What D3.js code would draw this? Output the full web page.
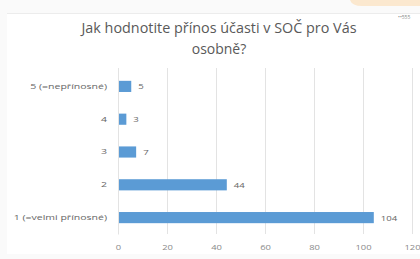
<!DOCTYPE html>
<html><head><meta charset="utf-8">
<script src="https://cdn.jsdelivr.net/npm/d3@7"></script>
<style>body{margin:0;background:#fff;} text{font-family:"Open Sans","Liberation Sans",sans-serif;}</style>
</head><body><svg id="c" width="420" height="259"></svg>
<script>
const categories = ["5 (=nepřínosné)", "4", "3", "2", "1 (=velmi přínosné)"];
const values = [5, 3, 7, 44, 104];
const ticks = [0, 20, 40, 60, 80, 100, 120];
const titleLines = ["Jak hodnotite přínos účasti v SOČ pro Vás", "osobně?"];

const svg = d3.select("#c");
svg.append("rect").attr("x",0).attr("y",0).attr("width",420).attr("height",259).attr("fill","#fafafa");
svg.append("rect").attr("x",7).attr("y",14).attr("width",413).attr("height",240).attr("fill","#ffffff");
svg.append("line").attr("x1",7).attr("x2",420).attr("y1",13.5).attr("y2",13.5).attr("stroke","#ececec");
svg.append("path").attr("d","M350,0 H420 V6 H362 Q352,6 350,0 Z").attr("fill","#fbe8cf");
svg.append("text").attr("x",398).attr("y",19).attr("font-size",5).attr("fill","#8a8a8a").text("••555");

const x = d3.scaleLinear().domain([0,120]).range([118,412]);
const y = d3.scaleBand().domain(categories).range([70,234]).paddingInner(0.66).paddingOuter(0.33);

const stretch = (sel, f) => sel.each(function(){
  const w = this.getComputedTextLength();
  d3.select(this).attr("textLength", w*f).attr("lengthAdjust","spacingAndGlyphs");
});

svg.append("g").selectAll("line").data(ticks).join("line")
  .attr("x1",d=>x(d)+0.5).attr("x2",d=>x(d)+0.5).attr("y1",68).attr("y2",234)
  .attr("stroke","#e3e3e3").attr("stroke-width",1);

svg.append("g").selectAll("rect").data(values).join("rect")
  .attr("x",x(0)+1).attr("y",(d,i)=>y(categories[i]))
  .attr("width",d=>x(d)-x(0)).attr("height",y.bandwidth())
  .attr("fill","#5b9bd5");

svg.append("g").selectAll("text").data(values).join("text")
  .attr("x",d=>x(d)+8).attr("y",(d,i)=>y(categories[i])+y.bandwidth()/2+3)
  .attr("font-size",8).attr("fill","#666").text(d=>d)
  .call(stretch, 1.2);

const xa = svg.append("g").attr("transform","translate(0,234)")
  .call(d3.axisBottom(x).tickValues(ticks).tickSize(0).tickPadding(11));
xa.select(".domain").remove();
xa.selectAll("text").attr("font-size",7.5).attr("fill","#8a8a8a").attr("font-family","Open Sans, sans-serif")
  .call(stretch, 1.25);

const ya = svg.append("g").attr("transform","translate(118,0)")
  .call(d3.axisLeft(y).tickSize(0).tickPadding(11));
ya.select(".domain").attr("stroke","#e3e3e3");
ya.selectAll("text").attr("font-size",7.5).attr("fill","#666").attr("font-family","Open Sans, sans-serif")
  .call(stretch, 1.4);

const tt = svg.append("g").selectAll("text").data(titleLines).join("text")
  .attr("x",219).attr("y",(d,i)=>33+i*21).attr("text-anchor","middle")
  .attr("font-size",14).attr("fill","#595959").text(d=>d);
tt.filter((d,i)=>i===0).each(function(){ d3.select(this).attr("textLength",275).attr("lengthAdjust","spacingAndGlyphs"); });
</script></body></html>
